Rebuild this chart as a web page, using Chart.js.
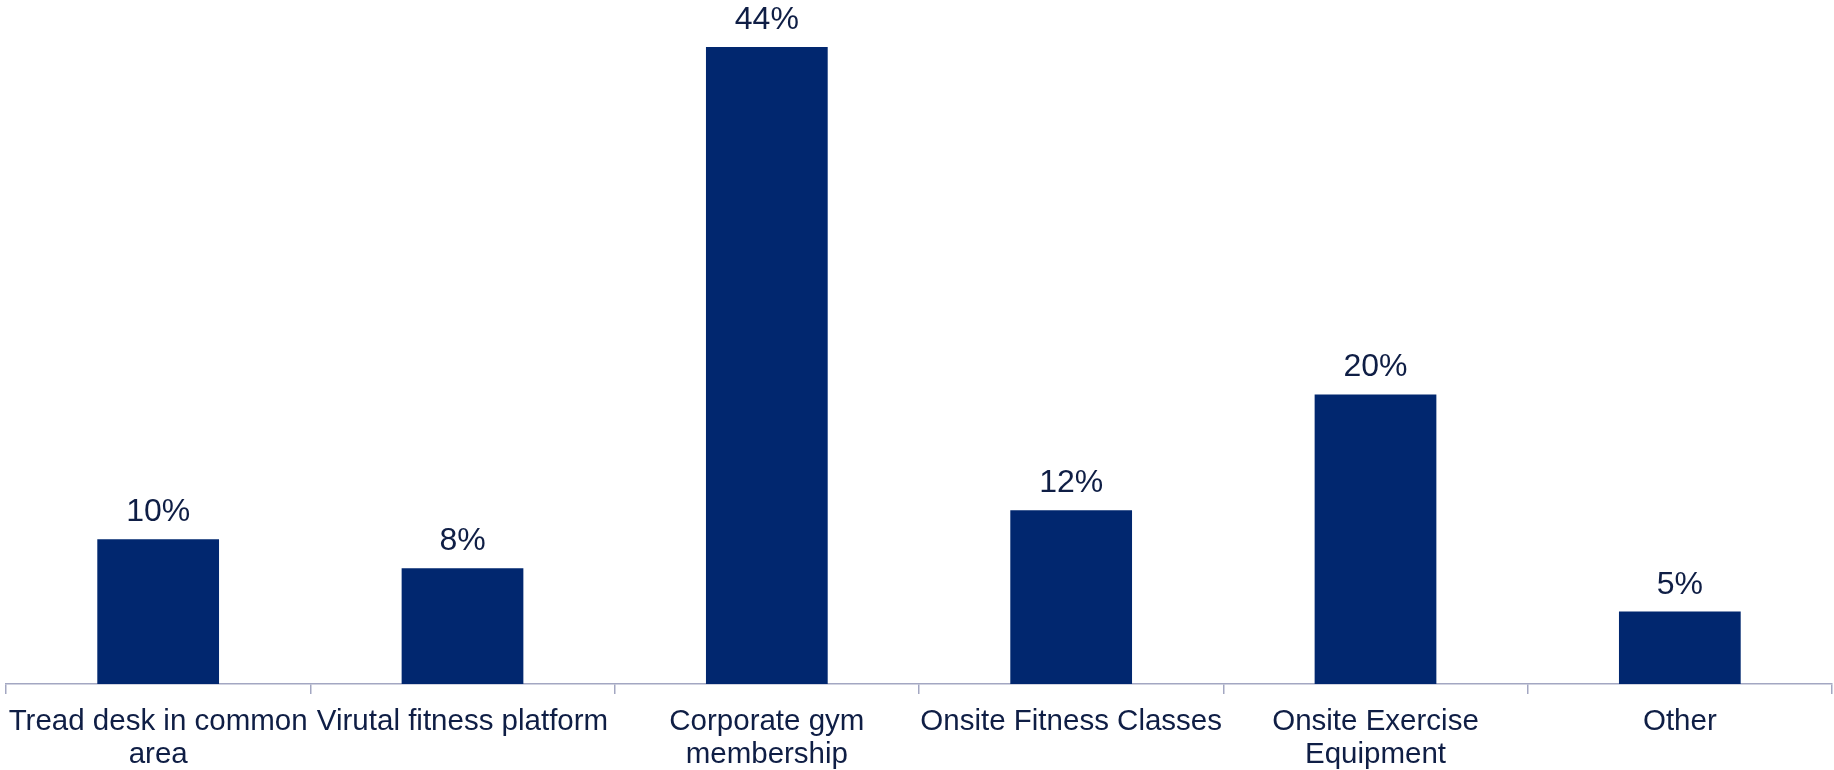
<!DOCTYPE html>
<html>
<head>
<meta charset="utf-8">
<script src="https://cdn.jsdelivr.net/npm/chart.js@4"></script>
<style>
  html, body { margin: 0; padding: 0; background: #ffffff; }
  #wrap { width: 1834px; height: 770px; position: relative; }
</style>
</head>
<body>
<div id="wrap"><canvas id="chart"></canvas></div>
<script>
// Category labels (wrapped onto lines as displayed)
const categories = [
  ["Tread desk in common", "area"],
  ["Virutal fitness platform"],
  ["Corporate gym", "membership"],
  ["Onsite Fitness Classes"],
  ["Onsite Exercise", "Equipment"],
  ["Other"]
];
// Share of respondents, percent
const shares = [10, 8, 44, 12, 20, 5];

const barColor = "#01276f";
const textColor = "#0f1e45";
const axisColor = "#a3a7c2";
const fontFamily = "'Liberation Sans', Arial, sans-serif";

// Draws the percentage above each bar
const valueLabels = {
  id: "valueLabels",
  afterDatasetsDraw(chart) {
    const ctx = chart.ctx;
    const meta = chart.getDatasetMeta(0);
    ctx.save();
    ctx.font = "32px " + fontFamily;
    ctx.fillStyle = textColor;
    ctx.textAlign = "center";
    ctx.textBaseline = "alphabetic";
    meta.data.forEach((bar, i) => {
      ctx.fillText(shares[i] + "%", bar.x, bar.y - 18);
    });
    ctx.restore();
  }
};

new Chart(document.getElementById("chart"), {
  type: "bar",
  data: {
    labels: categories,
    datasets: [{
      data: shares,
      backgroundColor: barColor,
      borderWidth: 0,
      barPercentage: 0.4,
      categoryPercentage: 1.0
    }]
  },
  options: {
    responsive: true,
    maintainAspectRatio: false,
    animation: false,
    layout: { padding: { left: 6, right: 2, top: 47, bottom: 0 } },
    plugins: { legend: { display: false }, tooltip: { enabled: false } },
    scales: {
      x: {
        offset: true,
        afterFit(scale) {
          scale.height = 86;
          scale.paddingLeft = 0;
          scale.paddingRight = 0;
        },
        grid: {
          offset: true,
          drawOnChartArea: false,
          drawTicks: true,
          tickLength: 10,
          color: axisColor,
          lineWidth: 1.5
        },
        border: { display: true, color: axisColor, width: 1.5 },
        ticks: {
          color: textColor,
          font: { family: fontFamily, size: 29.5, lineHeight: 1.12 },
          padding: 11,
          maxRotation: 0,
          autoSkip: false
        }
      },
      y: {
        display: false,
        min: 0,
        max: 44
      }
    }
  },
  plugins: [valueLabels]
});
</script>
</body>
</html>
